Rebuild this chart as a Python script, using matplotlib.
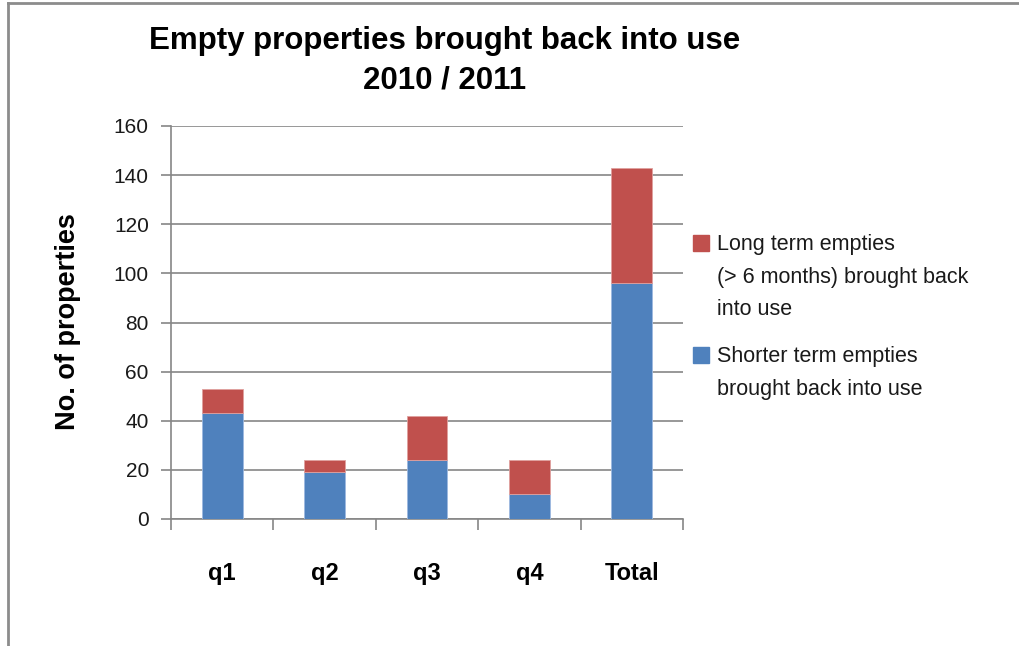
import numpy as np
import matplotlib.pyplot as plt
from matplotlib.patches import Rectangle
from matplotlib.lines import Line2D

# values
categories = ["q1", "q2", "q3", "q4", "Total"]
shorter_term = [43, 19, 24, 10, 96]
long_term = [10, 5, 18, 14, 47]

title = "Empty properties brought back into use\n2010 / 2011"
ylabel = "No. of properties"
label_long = "Long term empties\n(> 6 months) brought back\ninto use"
label_short = "Shorter term empties\nbrought back into use"

blue = "#4F81BD"
red = "#C0504D"
grey = "#868686"

plt.rcParams['font.family'] = ['Liberation Sans', 'DejaVu Sans']

W, H = 1019, 646
fig = plt.figure(figsize=(W / 100, H / 100), dpi=100)
ax = fig.add_axes([171 / W, 1 - 519 / H, 512 / W, 393 / H])

x = np.arange(len(categories))
ax.bar(x, shorter_term, width=0.4, color=blue, edgecolor="#9DB9E0",
       linewidth=0.6, zorder=3)
ax.bar(x, long_term, width=0.4, bottom=shorter_term, color=red,
       edgecolor="#E0A09E", linewidth=0.6, zorder=3)

ax.set_xlim(-0.5, len(categories) - 0.5)
ax.set_ylim(0, 160)
ax.set_yticks(np.arange(0, 161, 20))
ax.yaxis.grid(True, color=grey, linewidth=1.2, zorder=0)
ax.tick_params(axis="y", labelsize=15, length=7, color=grey, width=1.2,
               pad=9, labelcolor="#1a1a1a")

# category labels centred, tick marks at the boundaries
ax.set_xticks(x)
ax.set_xticklabels(categories, fontsize=17, fontweight="bold")
ax.tick_params(axis="x", length=0, pad=31)
ax.set_xticks(np.arange(-0.5, len(categories)), minor=True)
ax.tick_params(axis="x", which="minor", length=8, color=grey, width=1.2)

for s in ["top", "right"]:
    ax.spines[s].set_visible(False)
for s in ["left", "bottom"]:
    ax.spines[s].set_color(grey)
    ax.spines[s].set_linewidth(1.2)

fig.text(68 / W, 1 - 322 / H, ylabel, rotation=90, ha="center", va="center",
         fontsize=19.5, fontweight="bold")
fig.text(445 / W, 1 - 61 / H, title, ha="center", va="center", fontsize=22.5,
         fontweight="bold", linespacing=1.4)

# legend: square aligned with the first line of each entry
for label, color, ytop in [(label_long, red, 243), (label_short, blue, 355)]:
    fig.patches.append(Rectangle((693 / W, 1 - (ytop + 8) / H), 16 / W, 16 / H,
                                 transform=fig.transFigure, color=color))
    fig.text(717 / W, 1 - (ytop - 9) / H, label, ha="left", va="top",
             fontsize=15.5, linespacing=1.72, color="#1a1a1a")

# outer chart border (top and left only visible)
fig.lines.append(Line2D([8 / W, 1], [1 - 3 / H, 1 - 3 / H], transform=fig.transFigure,
                        color="#8C8C8C", linewidth=2))
fig.lines.append(Line2D([8 / W, 8 / W], [0, 1 - 3 / H], transform=fig.transFigure,
                        color="#8C8C8C", linewidth=2))

fig.savefig("out.png", dpi=100)
